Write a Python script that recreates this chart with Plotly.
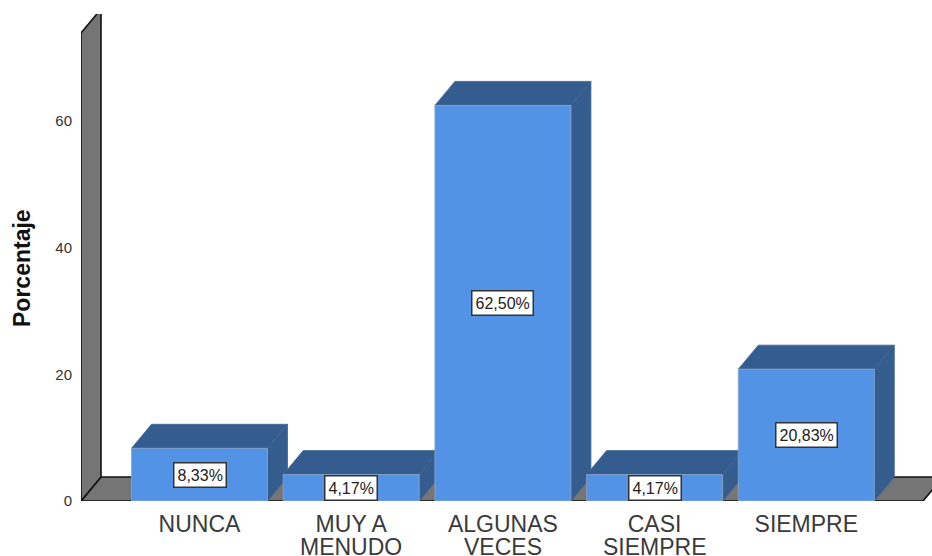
import plotly.graph_objects as go

categories = ["NUNCA", "MUY A", "ALGUNAS", "CASI", "SIEMPRE"]
second_lines = ["", "MENUDO", "VECES", "SIEMPRE", ""]
values = [8.33, 4.17, 62.50, 4.17, 20.83]
labels = ["8,33%", "4,17%", "62,50%", "4,17%", "20,83%"]
y_ticks = [0, 20, 40, 60]

FRONT = "#5293E5"
DARK = "#345C8F"
WALL = "#757575"
W, H = 932, 556
L, T, B = 81, 14, 55
PITCH = 151.7
X0 = 199.5
PX_PER_UNIT = 6.33
xrange_ = [(L - X0) / PITCH, (W - X0) / PITCH]
yrange_ = [0, (H - T - B) / PX_PER_UNIT]
half = 0.4483
dx = 20 / PITCH
dy = 24 / PX_PER_UNIT
xs = list(range(len(values)))
floor_right = (923 - X0) / PITCH
wall_top = (501 - 33) / PX_PER_UNIT

fig = go.Figure()


def poly(px, py, fill, line, width=0.8):
    fig.add_trace(go.Scatter(x=px, y=py, mode="lines", fill="toself", fillcolor=fill,
                             line=dict(color=line, width=width), hoverinfo="skip",
                             showlegend=False, cliponaxis=False))


xl = xrange_[0]
poly([xl, floor_right, floor_right + dx, xl + dx, xl], [0, 0, dy, dy, 0], WALL, "#111111", 1.6)
poly([xl, xl + dx, xl + dx, xl, xl], [0, dy, wall_top + dy, wall_top, 0], WALL, "#111111", 1.6)

for x, v in zip(xs, values):
    poly([x - half, x + half, x + half + dx, x - half + dx, x - half], [v, v, v + dy, v + dy, v], DARK, "#3F658F")
    poly([x + half, x + half + dx, x + half + dx, x + half, x + half], [0, dy, v + dy, v, 0], DARK, "#3F658F")

fig.add_trace(go.Bar(x=xs, y=values, width=2 * half, xaxis="x2", yaxis="y2",
                     marker=dict(color=FRONT, line=dict(color="#8FA6C4", width=0.8)),
                     hoverinfo="skip", showlegend=False))

for x, v, t in zip(xs, values, labels):
    fig.add_annotation(x=x, y=v / 2, xref="x", yref="y", text=t, showarrow=False,
                       font=dict(family="Liberation Sans", size=16, color="#222222"),
                       bgcolor="white", bordercolor="#333333", borderwidth=1.5, borderpad=3)
for x, t in zip(xs, second_lines):
    if t:
        fig.add_annotation(x=x, y=0, xref="x", yref="paper", text=t, showarrow=False,
                           yanchor="top", yshift=-31,
                           font=dict(family="Liberation Sans", size=23, color="#3a3a3a"))

fig.add_annotation(x=(22 - L) / (W - L), y=(501 - 268) / PX_PER_UNIT, xref="paper", yref="y",
                   text="<b>Porcentaje</b>", textangle=-90, showarrow=False,
                   xanchor="center", yanchor="middle",
                   font=dict(family="Liberation Sans", size=23, color="#111111"))

fig.update_layout(
    width=W, height=H, margin=dict(l=L, r=0, t=T, b=B),
    paper_bgcolor="white", plot_bgcolor="white", showlegend=False, barmode="overlay",
    xaxis=dict(range=xrange_, tickmode="array", tickvals=xs, ticktext=categories, showgrid=False,
               zeroline=False, showline=False, ticks="", ticklabelstandoff=7,
               tickfont=dict(family="Liberation Sans", size=23, color="#3a3a3a")),
    yaxis=dict(range=yrange_, tickmode="array", tickvals=y_ticks, showgrid=False, zeroline=False,
               showline=False, ticks="", ticklabelstandoff=8,
               tickfont=dict(family="Liberation Sans", size=15, color="#333333")),
    xaxis2=dict(range=xrange_, overlaying="x", visible=False),
    yaxis2=dict(range=yrange_, overlaying="y", visible=False),
)
fig.write_html("out.html", default_width=f"{W}px", default_height=f"{H}px",
               config={"displayModeBar": False},
               post_script="document.body.style.margin='0';document.documentElement.style.overflow='hidden';")
